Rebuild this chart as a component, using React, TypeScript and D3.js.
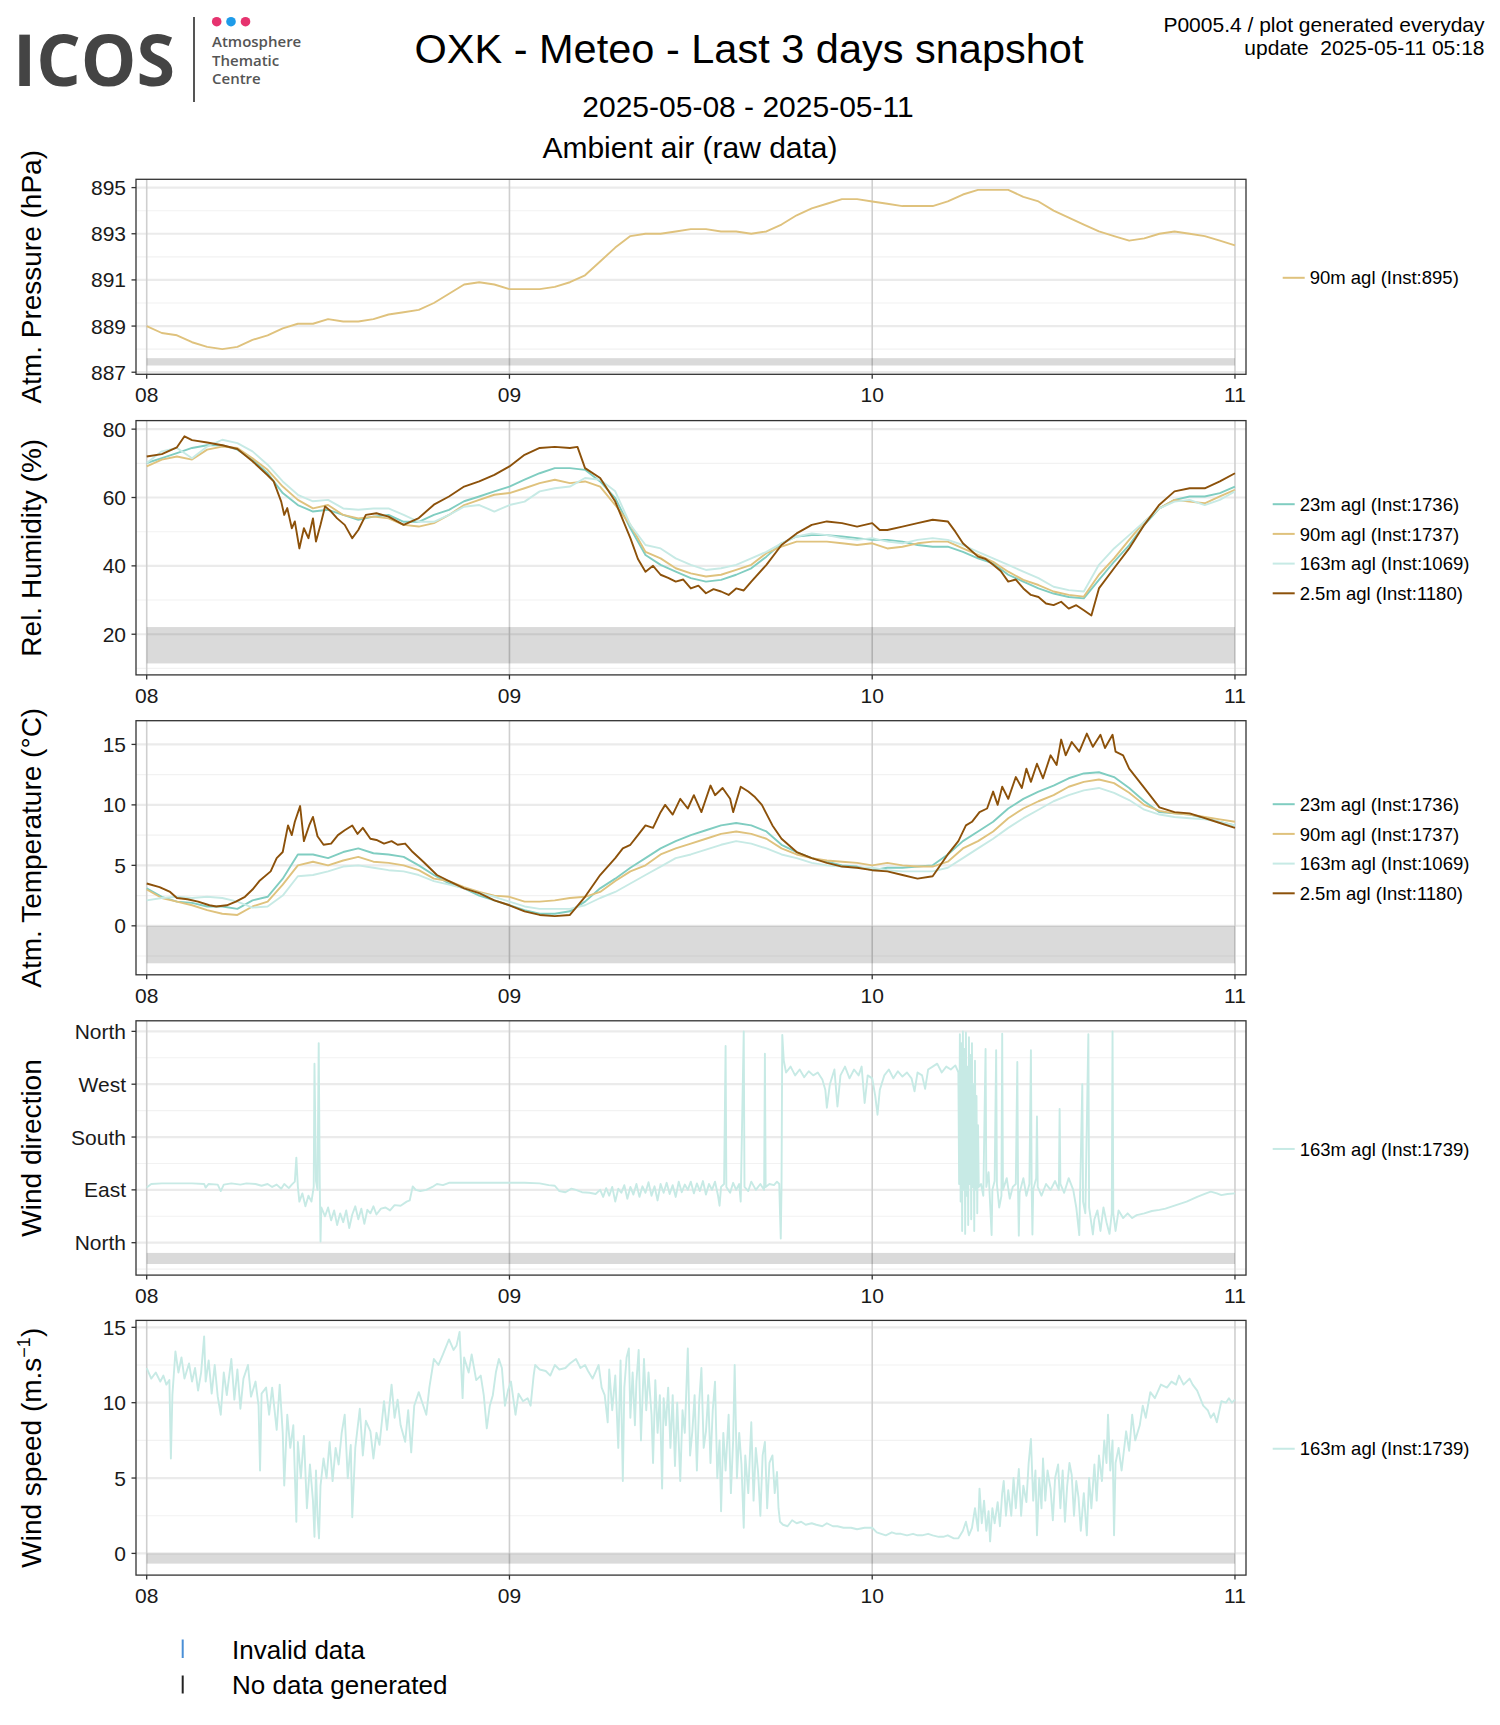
import React from 'react';
import * as d3 from 'd3';

// ---- data (hourly samples from 2025-05-08 00:00 UTC, hours 0..72) ----
const pressure90 = [
  889.0, 888.7, 888.6, 888.3, 888.1, 888.0, 888.1, 888.4, 888.6, 888.9,
  889.1, 889.1, 889.3, 889.2, 889.2, 889.3, 889.5, 889.6, 889.7, 890.0,
  890.4, 890.8, 890.9, 890.8, 890.6, 890.6, 890.6, 890.7, 890.9, 891.2,
  891.8, 892.4, 892.9, 893.0, 893.0, 893.1, 893.2, 893.2, 893.1, 893.1,
  893.0, 893.1, 893.4, 893.8, 894.1, 894.3, 894.5, 894.5, 894.4, 894.3,
  894.2, 894.2, 894.2, 894.4, 894.7, 894.9, 894.9, 894.9, 894.6, 894.4,
  894.0, 893.7, 893.4, 893.1, 892.9, 892.7, 892.8, 893.0, 893.1, 893.0,
  892.9, 892.7, 892.5,
];

const humidity23 = [
  70.1, 71.5, 73.0, 74.5, 75.3, 75.3, 74.0, 71.1, 67.1, 61.3,
  57.8, 55.9, 56.4, 54.9, 53.5, 54.4, 54.9, 52.9, 52.9, 54.9,
  56.4, 58.9, 60.3, 61.8, 63.2, 65.2, 67.1, 68.6, 68.6, 68.1,
  64.7, 59.8, 51.0, 43.2, 40.3, 38.3, 36.4, 35.4, 35.9, 37.4,
  39.3, 42.7, 46.6, 48.6, 49.0, 49.0, 48.6, 48.1, 47.6, 47.6,
  47.1, 46.1, 45.6, 45.6, 44.1, 42.2, 40.7, 37.4, 35.4, 33.4,
  31.9, 30.9, 30.5, 35.9, 41.2, 46.1, 52.0, 56.8, 59.3, 60.3,
  60.3, 61.3, 63.2,
];
const humidity90 = [
  69.1, 71.1, 72.0, 71.1, 74.0, 74.9, 74.5, 71.5, 68.1, 63.2,
  59.3, 56.8, 57.8, 54.9, 53.9, 54.4, 53.9, 52.0, 51.5, 52.5,
  54.9, 57.8, 59.3, 60.8, 61.3, 62.7, 64.2, 65.2, 64.2, 64.7,
  63.2, 57.8, 52.0, 44.1, 42.2, 39.3, 37.8, 36.9, 37.4, 38.8,
  40.3, 43.7, 45.6, 47.1, 47.1, 47.1, 46.6, 46.1, 46.6, 45.1,
  45.6, 46.6, 47.1, 47.1, 45.1, 43.2, 41.2, 38.3, 35.9, 34.4,
  32.5, 31.5, 31.0, 37.4, 42.2, 47.6, 52.9, 56.8, 59.3, 58.8,
  58.3, 60.3, 62.2,
];
const humidity163 = [
  70.1, 73.5, 74.5, 71.5, 74.9, 76.9, 75.9, 73.5, 69.6, 64.7,
  60.8, 58.9, 59.3, 56.8, 56.4, 56.8, 56.8, 54.9, 52.9, 52.9,
  54.9, 57.3, 57.8, 55.9, 57.8, 58.8, 61.8, 62.7, 63.2, 65.7,
  65.2, 61.8, 52.0, 46.1, 45.1, 42.2, 40.3, 38.8, 39.3, 40.3,
  42.2, 44.1, 46.6, 48.6, 49.5, 49.0, 48.1, 47.6, 48.1, 47.1,
  46.6, 47.6, 48.1, 47.6, 46.1, 44.1, 42.2, 40.3, 38.3, 36.4,
  33.9, 32.9, 32.5, 40.3, 45.1, 49.0, 52.9, 56.8, 58.8, 59.3,
  57.8, 59.3, 61.8,
];
// 2.5 m is noisier, so it is kept as [hour, value] pairs
const humidity2_5: [number, number][] = [
  [0, 72.0], [1, 72.7], [2, 74.7], [2.5, 77.9], [3, 76.8], [4, 76.1], [5, 75.3], [6, 74.2], [7, 70.6], [8, 66.5],
  [8.4, 64.7], [8.9, 58.8], [9.1, 54.9], [9.3, 56.9], [9.6, 51.0], [9.8, 53.0], [10.1, 45.1], [10.4, 51.0], [10.7, 48.1], [11.0, 53.9],
  [11.2, 47.1], [11.5, 52.0], [11.8, 57.4], [12.2, 55.9], [12.6, 53.9], [13.1, 52.0], [13.6, 48.1], [14, 50.5], [14.5, 54.9], [15.2, 55.4],
  [16, 54.4], [17, 52.0], [18, 54.0], [19, 57.9], [20, 60.3], [21, 63.2], [22, 64.7], [23, 66.6], [24, 69.1], [25, 72.5],
  [26, 74.5], [27, 74.8], [28, 74.5], [28.5, 74.8], [29, 68.6], [30, 65.7], [31, 58.8], [32, 48.1], [32.5, 42.0], [33, 38.3],
  [33.5, 40.0], [34, 37.4], [34.5, 36.5], [35, 35.4], [35.5, 36.0], [36, 33.4], [36.5, 34.2], [37, 32.0], [37.5, 33.2], [38, 32.5],
  [38.5, 31.5], [39, 33.4], [39.5, 32.8], [40, 35.4], [41, 40.3], [42, 46.1], [43, 49.5], [44, 52.0], [45, 53.0], [46, 52.5],
  [47, 51.5], [48, 52.5], [48.5, 50.5], [49, 50.5], [50, 51.5], [51, 52.5], [52, 53.5], [53, 53.0], [53.5, 50.0], [54, 46.6],
  [55, 42.7], [55.5, 42.0], [56, 40.3], [56.5, 38.5], [57, 35.4], [57.5, 36.0], [58, 33.4], [58.5, 31.5], [59, 30.9], [59.5, 29.0],
  [60, 28.5], [60.5, 29.5], [61, 27.5], [61.5, 28.5], [62, 27.0], [62.5, 25.5], [63, 33.4], [64, 39.3], [65, 45.1], [66, 52.0],
  [67, 57.9], [68, 61.8], [69, 62.7], [70, 62.7], [71, 64.7], [72, 67.1],
];

const temperature23 = [
  3.1, 2.4, 2.0, 1.9, 1.6, 1.6, 1.4, 2.1, 2.4, 3.9,
  5.9, 5.9, 5.6, 6.1, 6.4, 6.0, 5.9, 5.7, 5.0, 4.2,
  3.5, 3.1, 2.5, 2.1, 1.7, 1.3, 1.0, 1.0, 1.2, 2.0,
  3.1, 3.9, 4.8, 5.6, 6.4, 7.0, 7.5, 7.9, 8.3, 8.5,
  8.3, 7.8, 6.7, 6.1, 5.6, 5.3, 5.0, 4.9, 4.6, 4.8,
  4.8, 4.9, 5.0, 5.9, 7.0, 7.8, 8.6, 9.7, 10.5, 11.1,
  11.6, 12.2, 12.6, 12.7, 12.3, 11.4, 10.3, 9.4, 9.3, 9.2,
  8.9, 8.6, 8.3,
];
const temperature90 = [
  3.0, 2.3, 2.0, 1.7, 1.3, 1.0, 0.9, 1.6, 2.0, 3.4,
  5.0, 5.3, 5.0, 5.4, 5.7, 5.3, 5.2, 5.0, 4.6, 3.9,
  3.7, 3.2, 2.8, 2.5, 2.4, 2.0, 2.0, 2.1, 2.3, 2.4,
  2.8, 3.7, 4.5, 5.0, 5.9, 6.4, 6.8, 7.2, 7.6, 7.8,
  7.6, 7.2, 6.4, 5.9, 5.6, 5.4, 5.3, 5.2, 5.0, 5.2,
  5.0, 4.9, 4.9, 5.3, 6.4, 7.0, 7.8, 8.9, 9.7, 10.3,
  10.8, 11.5, 11.9, 12.1, 11.8, 11.0, 10.0, 9.5, 9.3, 9.2,
  9.0, 8.8, 8.6,
];
const temperature163 = [
  2.1, 2.3, 2.4, 2.3, 2.4, 2.3, 2.0, 1.5, 1.6, 2.5,
  4.1, 4.2, 4.5, 4.9, 5.0, 4.8, 4.6, 4.5, 4.2, 3.7,
  3.4, 3.1, 2.7, 2.4, 2.0, 1.6, 1.4, 1.4, 1.4, 1.7,
  2.3, 2.8, 3.5, 4.2, 4.9, 5.6, 5.9, 6.3, 6.7, 7.0,
  6.8, 6.4, 5.9, 5.6, 5.2, 5.0, 4.9, 4.8, 4.8, 4.6,
  4.5, 4.5, 4.5, 4.8, 5.6, 6.4, 7.2, 8.1, 8.9, 9.6,
  10.3, 10.8, 11.2, 11.4, 11.0, 10.4, 9.6, 9.2, 9.0, 8.9,
  8.8, 8.6, 8.3,
];
const temperature2_5: [number, number][] = [
  [0, 3.5], [0.85, 3.2], [1.55, 2.8], [2.0, 2.3], [2.7, 2.2], [3.4, 2.0], [4.15, 1.7], [4.6, 1.6], [5.3, 1.7], [5.9, 2.0],
  [6.5, 2.4], [7.0, 3.0], [7.45, 3.7], [8.2, 4.5], [8.6, 5.6], [9.0, 6.1], [9.35, 8.3], [9.6, 7.5], [9.8, 8.6], [10.15, 9.9],
  [10.4, 7.0], [10.75, 8.3], [11.0, 9.0], [11.3, 7.4], [11.7, 6.7], [12.2, 6.8], [12.65, 7.5], [13.1, 7.9], [13.6, 8.3], [13.95, 7.6],
  [14.3, 8.1], [14.8, 7.2], [15.2, 7.1], [15.7, 6.8], [16.2, 7.0], [16.6, 6.7], [17.1, 6.8], [17.6, 6.1], [18.3, 5.3], [19.2, 4.2],
  [20, 3.7], [21, 3.1], [22, 2.7], [23, 2.1], [24, 1.7], [25, 1.2], [26, 0.9], [27, 0.8], [28, 0.9], [29, 2.4],
  [30, 4.2], [31, 5.6], [31.5, 6.4], [32, 6.7], [32.5, 7.5], [33, 8.3], [33.5, 8.1], [34, 9.4], [34.3, 10.0], [34.8, 9.2],
  [35.3, 10.5], [35.8, 9.7], [36.2, 10.8], [36.7, 9.4], [37.3, 11.6], [37.6, 10.8], [38.1, 11.4], [38.6, 10.5], [38.8, 9.4], [39.3, 11.5],
  [39.8, 11.1], [40.2, 10.7], [40.7, 10.0], [41.4, 8.3], [42, 7.2], [43, 6.1], [44, 5.6], [45, 5.2], [46, 4.9], [47, 4.8],
  [48, 4.6], [49, 4.5], [50, 4.2], [51, 3.9], [52, 4.1], [53, 5.9], [53.7, 7.0], [54.2, 8.3], [54.6, 8.6], [55.1, 9.4],
  [55.6, 9.7], [56, 11.1], [56.3, 10.0], [56.6, 11.5], [57, 10.5], [57.5, 12.3], [57.9, 11.4], [58.2, 13.0], [58.5, 11.9], [58.9, 13.4],
  [59.3, 12.2], [59.8, 14.1], [60.2, 13.3], [60.5, 15.4], [60.8, 14.1], [61.2, 15.2], [61.7, 14.4], [62.2, 15.9], [62.6, 14.8], [63.1, 15.8],
  [63.4, 14.7], [63.9, 15.8], [64.1, 14.4], [64.6, 14.1], [65, 13.0], [66, 11.4], [67, 9.8], [68, 9.4], [69, 9.3], [70, 8.9],
  [71, 8.5], [72, 8.1],
];

// [hour since 08 00:00, degrees]
const windDirection163: [number, number][] = [
  [0, 94], [0.3, 100], [1, 101], [2, 101], [3, 101], [3.8, 100], [3.9, 94], [4.1, 100], [4.7, 99], [4.9, 88],
  [5.1, 99], [5.6, 101], [6.2, 99], [6.6, 101], [7.2, 100], [7.6, 97], [8, 100], [8.3, 95], [8.6, 99], [8.9, 92],
  [9.1, 100], [9.4, 93], [9.6, 99], [9.8, 104], [9.9, 145], [10.0, 96], [10.1, 70], [10.3, 84], [10.5, 62], [10.7, 80],
  [10.9, 70], [11.05, 95], [11.1, 305], [11.2, 105], [11.3, 90], [11.38, 340], [11.45, 100], [11.5, 2], [11.55, 60], [11.8, 45],
  [12.0, 60], [12.2, 38], [12.4, 55], [12.6, 30], [12.8, 50], [13.0, 35], [13.2, 55], [13.4, 25], [13.6, 48], [13.8, 62],
  [14.0, 40], [14.2, 58], [14.4, 32], [14.6, 56], [14.8, 50], [15.0, 62], [15.2, 48], [15.5, 58], [15.8, 60], [16.1, 55],
  [16.4, 64], [16.8, 63], [17.2, 70], [17.4, 72], [17.6, 96], [17.8, 90], [18.1, 88], [18.5, 90], [18.9, 95], [19.2, 100],
  [19.6, 98], [20, 102], [21, 102], [22, 102], [23, 102], [24, 102], [25, 102], [26, 101], [26.6, 98], [27.0, 97],
  [27.3, 88], [27.7, 86], [28.1, 92], [28.4, 90], [28.8, 86], [29.3, 85], [29.7, 83], [30.0, 90], [30.2, 78], [30.4, 93],
  [30.6, 80], [30.8, 95], [31.0, 70], [31.2, 92], [31.4, 85], [31.6, 98], [31.8, 75], [32.0, 95], [32.2, 82], [32.4, 100],
  [32.6, 78], [32.8, 96], [33.0, 85], [33.2, 103], [33.4, 80], [33.6, 96], [33.8, 72], [34.0, 100], [34.2, 85], [34.4, 102],
  [34.6, 83], [34.8, 98], [35.0, 78], [35.2, 104], [35.4, 86], [35.6, 99], [35.8, 90], [36.0, 104], [36.2, 84], [36.4, 101],
  [36.6, 88], [36.8, 105], [37.0, 82], [37.2, 100], [37.4, 90], [37.6, 104], [37.8, 80], [37.9, 63], [38.0, 95], [38.2, 100],
  [38.3, 335], [38.35, 95], [38.6, 85], [38.8, 102], [39.0, 90], [39.2, 100], [39.3, 70], [39.5, 360], [39.55, 95], [39.8, 88],
  [40.0, 104], [40.3, 90], [40.6, 100], [40.85, 90], [40.9, 322], [40.95, 95], [41.2, 100], [41.5, 98], [41.7, 104], [41.85, 100],
  [41.9, 50], [41.95, 7], [42.0, 95], [42.05, 354], [42.15, 310], [42.3, 290], [42.6, 300], [42.9, 285], [43.2, 295], [43.5, 282],
  [43.8, 292], [44.1, 285], [44.4, 290], [44.7, 278], [44.9, 260], [45.0, 230], [45.2, 270], [45.5, 295], [45.7, 232], [45.9, 285],
  [46.2, 300], [46.5, 280], [46.8, 295], [47.1, 285], [47.3, 300], [47.5, 238], [47.7, 285], [48.0, 280], [48.2, 250], [48.35, 218],
  [48.5, 260], [48.8, 285], [49.1, 295], [49.4, 280], [49.7, 292], [50.0, 283], [50.3, 290], [50.6, 280], [50.8, 258], [51.0, 290],
  [51.3, 285], [51.5, 262], [51.7, 295], [52.0, 300], [52.3, 305], [52.6, 290], [52.9, 300], [53.2, 295], [53.5, 302], [53.7, 290],
  [53.75, 100], [53.8, 355], [53.85, 70], [53.9, 340], [53.95, 20], [54.0, 360], [54.05, 90], [54.1, 330], [54.15, 15], [54.2, 358],
  [54.25, 80], [54.3, 300], [54.35, 30], [54.4, 350], [54.45, 100], [54.5, 320], [54.55, 40], [54.6, 340], [54.65, 95], [54.7, 270],
  [54.75, 20], [54.8, 310], [54.85, 90], [54.9, 250], [54.95, 50], [55.0, 200], [55.05, 95], [55.2, 100], [55.35, 80], [55.5, 330],
  [55.55, 95], [55.7, 120], [55.9, 13], [55.95, 90], [56.1, 105], [56.2, 328], [56.25, 100], [56.4, 60], [56.55, 80], [56.6, 356],
  [56.65, 90], [56.9, 110], [57.1, 75], [57.3, 95], [57.5, 100], [57.6, 308], [57.65, 90], [57.7, 12], [57.75, 85], [58.0, 110],
  [58.2, 80], [58.4, 100], [58.5, 328], [58.55, 95], [58.6, 14], [58.65, 90], [58.85, 110], [58.9, 215], [58.95, 95], [59.2, 80],
  [59.5, 100], [59.8, 90], [60.1, 105], [60.35, 90], [60.4, 228], [60.45, 100], [60.7, 85], [61.0, 110], [61.3, 90], [61.5, 60],
  [61.7, 13], [61.75, 80], [61.9, 270], [61.95, 70], [62.1, 50], [62.3, 355], [62.35, 60], [62.6, 14], [62.7, 40], [62.9, 55],
  [63.1, 20], [63.3, 60], [63.5, 35], [63.7, 15], [63.85, 50], [63.9, 360], [63.95, 50], [64.1, 20], [64.3, 55], [64.6, 42],
  [64.9, 50], [65.2, 42], [65.5, 47], [66.0, 50], [66.5, 54], [67.0, 56], [67.4, 58], [68.0, 63], [68.8, 70], [69.5, 78],
  [70.0, 83], [70.4, 87], [70.8, 84], [71.1, 81], [71.5, 83], [72.0, 84],
];

// [hour since 08 00:00, m/s]
const windSpeed163: [number, number][] = [
  [0, 12.3], [0.3, 11.6], [0.6, 12.0], [0.9, 11.4], [1.1, 11.8], [1.3, 11.2], [1.5, 11.5], [1.6, 6.3], [1.7, 10.5], [1.9, 13.4],
  [2.1, 12.0], [2.3, 13.0], [2.5, 11.6], [2.8, 12.6], [3.0, 11.4], [3.2, 12.3], [3.4, 10.8], [3.6, 12.0], [3.8, 14.4], [3.9, 11.4],
  [4.1, 12.8], [4.3, 10.6], [4.5, 12.5], [4.7, 10.4], [4.9, 9.2], [5.1, 12.0], [5.3, 10.5], [5.6, 12.9], [5.8, 10.2], [6.0, 12.2],
  [6.2, 9.6], [6.4, 11.6], [6.7, 12.5], [6.9, 10.4], [7.2, 11.4], [7.4, 9.8], [7.5, 5.5], [7.6, 10.6], [7.9, 11.0], [8.1, 9.2],
  [8.3, 11.0], [8.6, 8.2], [8.8, 11.2], [9.0, 8.0], [9.1, 4.5], [9.3, 9.2], [9.5, 7.0], [9.7, 8.5], [9.9, 2.1], [10.0, 7.4],
  [10.2, 5.0], [10.4, 7.8], [10.6, 3.0], [10.8, 5.9], [11.0, 3.5], [11.1, 1.1], [11.2, 5.5], [11.3, 2.5], [11.4, 1.0], [11.5, 4.5],
  [11.7, 6.3], [11.9, 5.0], [12.1, 7.4], [12.3, 4.8], [12.5, 7.0], [12.7, 5.9], [12.9, 8.0], [13.1, 9.2], [13.3, 5.0], [13.5, 7.2],
  [13.6, 2.4], [13.8, 7.0], [14.1, 9.6], [14.3, 6.5], [14.5, 8.8], [14.8, 8.1], [15.0, 6.3], [15.2, 8.0], [15.4, 7.2], [15.7, 10.1],
  [15.9, 8.2], [16.2, 11.2], [16.4, 9.0], [16.6, 10.2], [16.8, 8.5], [17.1, 7.4], [17.3, 9.5], [17.5, 6.7], [17.7, 9.8], [18.0, 10.7],
  [18.3, 9.8], [18.5, 9.2], [18.7, 11.0], [19.0, 12.9], [19.3, 12.5], [19.6, 13.2], [20.0, 14.2], [20.3, 13.5], [20.5, 13.8], [20.7, 14.7],
  [20.9, 10.3], [21.0, 13.0], [21.3, 12.0], [21.5, 13.2], [21.8, 11.5], [22.1, 11.8], [22.3, 10.5], [22.5, 8.3], [22.7, 9.8], [22.9, 10.5],
  [23.1, 12.0], [23.3, 12.9], [23.5, 12.3], [23.7, 9.8], [23.9, 10.8], [24.1, 11.4], [24.4, 9.2], [24.6, 10.6], [24.9, 10.1], [25.2, 10.3],
  [25.4, 9.8], [25.6, 11.8], [25.7, 12.5], [26.0, 12.2], [26.4, 12.1], [26.7, 11.8], [27.0, 12.5], [27.3, 12.2], [27.7, 12.3], [28.0, 12.6],
  [28.4, 12.9], [28.7, 12.3], [29.0, 12.5], [29.2, 12.1], [29.5, 11.6], [29.9, 12.5], [30.1, 11.0], [30.3, 10.5], [30.5, 8.7], [30.6, 12.2],
  [30.8, 9.5], [31.0, 11.8], [31.2, 7.0], [31.35, 12.8], [31.5, 4.8], [31.6, 11.0], [31.75, 13.0], [31.9, 13.6], [32.0, 9.0], [32.15, 12.0],
  [32.3, 8.5], [32.4, 11.4], [32.55, 13.5], [32.7, 7.5], [32.9, 12.9], [33.05, 9.5], [33.2, 12.0], [33.4, 9.2], [33.5, 6.0], [33.65, 11.5],
  [33.8, 8.0], [33.95, 10.5], [34.1, 4.3], [34.2, 10.3], [34.35, 8.5], [34.5, 11.0], [34.65, 7.0], [34.8, 10.5], [34.95, 5.8], [35.1, 10.0],
  [35.3, 4.8], [35.45, 9.5], [35.6, 8.0], [35.8, 13.6], [35.95, 6.5], [36.1, 8.1], [36.25, 10.5], [36.4, 5.5], [36.55, 10.0], [36.7, 12.3],
  [36.85, 7.0], [37.0, 8.1], [37.15, 10.5], [37.3, 6.0], [37.45, 9.5], [37.6, 11.4], [37.75, 5.0], [37.9, 7.5], [38.0, 2.8], [38.15, 8.0],
  [38.3, 5.5], [38.5, 9.2], [38.65, 4.0], [38.8, 7.5], [38.9, 12.5], [39.05, 5.0], [39.2, 8.0], [39.35, 5.9], [39.5, 1.7], [39.6, 6.5],
  [39.8, 4.0], [40.0, 8.7], [40.15, 3.5], [40.3, 7.0], [40.45, 5.4], [40.6, 2.5], [40.75, 6.5], [40.9, 7.4], [41.05, 3.0], [41.2, 6.0],
  [41.4, 6.5], [41.55, 4.0], [41.7, 5.4], [41.8, 3.0], [41.9, 2.1], [42.1, 1.9], [42.4, 1.8], [42.7, 2.2], [43.0, 2.0], [43.3, 2.1],
  [43.6, 1.9], [44.0, 2.0], [44.3, 1.9], [44.7, 1.8], [45.0, 2.0], [45.4, 1.8], [45.7, 1.8], [46.1, 1.7], [46.6, 1.7], [47.0, 1.6],
  [47.5, 1.7], [48.0, 1.7], [48.3, 1.4], [48.6, 1.3], [48.9, 1.2], [49.3, 1.4], [49.6, 1.3], [49.9, 1.3], [50.3, 1.2], [50.7, 1.3],
  [51.0, 1.2], [51.3, 1.2], [51.7, 1.3], [52.0, 1.2], [52.4, 1.1], [52.7, 1.1], [53.0, 1.2], [53.4, 1.0], [53.7, 1.0], [54.0, 1.5],
  [54.2, 2.1], [54.4, 1.2], [54.6, 1.7], [54.8, 3.0], [55.0, 1.5], [55.1, 4.3], [55.25, 2.0], [55.4, 3.5], [55.55, 1.5], [55.7, 2.8],
  [55.8, 0.8], [55.95, 3.0], [56.1, 2.0], [56.3, 3.4], [56.45, 1.8], [56.6, 4.0], [56.7, 4.8], [56.85, 2.5], [57.0, 4.2], [57.2, 2.5],
  [57.35, 5.0], [57.5, 3.0], [57.7, 5.6], [57.85, 2.5], [58.0, 4.5], [58.2, 3.4], [58.35, 6.0], [58.5, 7.6], [58.65, 3.5], [58.8, 5.5],
  [58.9, 1.2], [59.05, 5.0], [59.2, 3.0], [59.3, 6.3], [59.45, 3.5], [59.6, 5.5], [59.8, 4.3], [59.95, 2.2], [60.1, 5.0], [60.3, 5.9],
  [60.45, 3.0], [60.6, 5.5], [60.75, 2.1], [60.9, 4.5], [61.05, 6.0], [61.2, 5.2], [61.35, 2.5], [61.5, 4.8], [61.65, 3.7], [61.8, 1.5],
  [62.0, 4.0], [62.2, 1.2], [62.35, 5.0], [62.5, 3.0], [62.7, 5.9], [62.85, 3.5], [63.0, 6.5], [63.2, 4.8], [63.35, 7.5], [63.5, 6.0],
  [63.6, 9.2], [63.75, 5.5], [63.9, 7.5], [64.0, 1.2], [64.1, 6.0], [64.3, 7.0], [64.5, 5.5], [64.8, 8.1], [65.0, 6.8], [65.2, 9.2],
  [65.4, 7.5], [65.7, 8.5], [65.9, 9.8], [66.1, 9.0], [66.4, 10.7], [66.7, 10.3], [67.1, 11.2], [67.5, 11.0], [67.8, 11.4], [68.1, 11.2],
  [68.3, 11.8], [68.6, 11.2], [68.8, 11.4], [69.0, 11.6], [69.2, 11.2], [69.5, 10.8], [69.9, 9.8], [70.2, 9.5], [70.4, 9.0], [70.6, 9.3],
  [70.8, 8.7], [71.1, 10.1], [71.4, 10.0], [71.6, 10.3], [71.8, 10.0], [72.0, 10.2],
];

const windDirectionLabels = ['North', 'East', 'South', 'West', 'North'];
const bottomLegendLabels = ['Invalid data', 'No data generated'];
const logoLines = ['Atmosphere', 'Thematic', 'Centre'];

// ---- layout ----
const W = 1500;
const H = 1725;
const START = Date.UTC(2025, 4, 8);
const HOUR = 3600 * 1000;
const FONT = '"Liberation Sans", Arial, Helvetica, sans-serif';

const C23 = '#80cdc1';
const C90 = '#dfc27d';
const C163 = '#c7eae5';
const C2_5 = '#8c510a';

const x = d3
  .scaleUtc()
  .domain([new Date(START - 0.708 * HOUR), new Date(START + 72.73 * HOUR)])
  .range([136, 1246]);
const dayTicks = x.ticks(d3.utcDay.every(1) as d3.TimeInterval);
const dayFormat = d3.utcFormat('%d');
const hx = (h: number) => x(new Date(START + h * HOUR));

const hourly = (vals: number[]): [number, number][] => vals.map((v, i) => [i, v]);

interface Series {
  data: [number, number][];
  color: string;
  label: string;
}

interface PanelProps {
  id: string;
  top: number;
  bottom: number;
  domain: [number, number];
  major: number[];
  minor: number[];
  fmt: (v: number, i: number) => string;
  band: [number, number];
  series: Series[];
  legendX: number;
  title: React.ReactNode;
}

const Panel: React.FC<PanelProps> = ({ id, top, bottom, domain, major, minor, fmt, band, series, legendX, title }) => {
  const y = d3.scaleLinear().domain(domain).range([bottom, top]);
  const line = d3
    .line<[number, number]>()
    .x((d) => hx(d[0]))
    .y((d) => y(d[1]));
  const [x0, x1] = x.range();
  const mid = (top + bottom) / 2;
  const legendTop = mid + 1 - ((series.length - 1) * 29.7) / 2;
  return (
    <g>
      <defs>
        <clipPath id={`clip-${id}`}>
          <rect x={x0} y={top} width={x1 - x0} height={bottom - top} />
        </clipPath>
      </defs>
      {minor.map((v) => (
        <line key={`mi${v}`} x1={x0} x2={x1} y1={y(v)} y2={y(v)} stroke="#f2f2f2" strokeWidth={1.1} />
      ))}
      {major.map((v) => (
        <line key={`ma${v}`} x1={x0} x2={x1} y1={y(v)} y2={y(v)} stroke="#ebebeb" strokeWidth={2.2} />
      ))}
      {dayTicks.map((d) => (
        <line key={`v${+d}`} x1={x(d)} x2={x(d)} y1={top} y2={bottom} stroke="#cfcfcf" strokeWidth={1.6} />
      ))}
      <rect
        x={x(dayTicks[0])}
        width={x(dayTicks[dayTicks.length - 1]) - x(dayTicks[0])}
        y={y(band[1])}
        height={y(band[0]) - y(band[1])}
        fill="#000"
        fillOpacity={0.145}
      />
      <g clipPath={`url(#clip-${id})`}>
        {series.map((s) => (
          <path key={s.label} d={line(s.data) || ''} fill="none" stroke={s.color} strokeWidth={1.9} strokeLinejoin="round" />
        ))}
      </g>
      <rect x={x0} y={top} width={x1 - x0} height={bottom - top} fill="none" stroke="#333" strokeWidth={1.3} />
      {major.map((v, i) => (
        <g key={`t${v}`}>
          <line x1={x0 - 4.5} x2={x0} y1={y(v)} y2={y(v)} stroke="#333" strokeWidth={1.3} />
          <text x={x0 - 10} y={y(v)} dy="0.36em" textAnchor="end" fontSize={21} fill="#1a1a1a" fontFamily={FONT}>
            {fmt(v, i)}
          </text>
        </g>
      ))}
      {dayTicks.map((d) => (
        <g key={`xt${+d}`}>
          <line x1={x(d)} x2={x(d)} y1={bottom} y2={bottom + 4.5} stroke="#333" strokeWidth={1.3} />
          <text x={x(d)} y={bottom + 28} textAnchor="middle" fontSize={21} fill="#1a1a1a" fontFamily={FONT}>
            {dayFormat(d)}
          </text>
        </g>
      ))}
      <text
        transform={`translate(41,${mid}) rotate(-90)`}
        textAnchor="middle"
        fontSize={28}
        fill="#000"
        fontFamily={FONT}
      >
        {title}
      </text>
      {series.map((s, i) => (
        <g key={`lg${s.label}`}>
          <line
            x1={legendX}
            x2={legendX + 22}
            y1={legendTop + i * 29.7}
            y2={legendTop + i * 29.7}
            stroke={s.color}
            strokeWidth={2}
          />
          <text x={legendX + 27} y={legendTop + i * 29.7} dy="0.36em" fontSize={18.5} fill="#000" fontFamily={FONT}>
            {s.label}
          </text>
        </g>
      ))}
    </g>
  );
};

const App: React.FC = () => {
  const num = (v: number) => String(v);
  return (
    <svg
      width={W}
      height={H}
      viewBox={`0 0 ${W} ${H}`}
      style={{ position: 'absolute', left: 0, top: 0, background: '#fff' }}
    >
      <rect width={W} height={H} fill="#fff" />

      {/* logo */}
      <text x={13} y={86} fontFamily='"Open Sans", sans-serif' fontWeight={700} fontSize={72} fill="#444"
        textLength={162} lengthAdjust="spacingAndGlyphs">ICOS</text>
      <line x1={194} x2={194} y1={17} y2={102} stroke="#555" strokeWidth={2} />
      <circle cx={216.7} cy={21.7} r={4.8} fill="#e6336f" />
      <circle cx={231} cy={21.7} r={4.8} fill="#1e9be9" />
      <circle cx={245.5} cy={21.7} r={4.8} fill="#e6336f" />
      {logoLines.map((t, i) => (
        <text key={t} x={212} y={46.7 + i * 18.8} fontFamily='"Open Sans", sans-serif' fontWeight={600}
          fontSize={15} fill="#555">{t}</text>
      ))}

      {/* titles */}
      <text x={749} y={63} textAnchor="middle" fontSize={41.5} fontFamily={FONT} fill="#000">
        OXK - Meteo - Last 3 days snapshot
      </text>
      <text x={748} y={117} textAnchor="middle" fontSize={30} fontFamily={FONT} fill="#000">
        2025-05-08 - 2025-05-11
      </text>
      <text x={690} y={158} textAnchor="middle" fontSize={30} fontFamily={FONT} fill="#000">
        Ambient air (raw data)
      </text>
      <text x={1484.5} y={31.5} textAnchor="end" fontSize={21} fontFamily={FONT} fill="#000">
        P0005.4 / plot generated everyday
      </text>
      <text x={1484.5} y={55} textAnchor="end" fontSize={21} fontFamily={FONT} fill="#000" style={{ whiteSpace: 'pre' }}>
        {'update  2025-05-11 05:18'}
      </text>

      <Panel
        id="p1"
        top={179.3}
        bottom={374.3}
        domain={[886.91, 895.36]}
        major={[887, 889, 891, 893, 895]}
        minor={[888, 890, 892, 894]}
        fmt={num}
        band={[887.29, 887.61]}
        series={[{ data: hourly(pressure90), color: C90, label: '90m agl (Inst:895)' }]}
        legendX={1282.7}
        title="Atm. Pressure (hPa)"
      />
      <Panel
        id="p2"
        top={420.6}
        bottom={674.9}
        domain={[8.1, 82.5]}
        major={[20, 40, 60, 80]}
        minor={[10, 30, 50, 70]}
        fmt={num}
        band={[11.45, 22.1]}
        series={[
          { data: hourly(humidity23), color: C23, label: '23m agl (Inst:1736)' },
          { data: hourly(humidity90), color: C90, label: '90m agl (Inst:1737)' },
          { data: hourly(humidity163), color: C163, label: '163m agl (Inst:1069)' },
          { data: humidity2_5, color: C2_5, label: '2.5m agl (Inst:1180)' },
        ]}
        legendX={1272.7}
        title="Rel. Humidity (%)"
      />
      <Panel
        id="p3"
        top={720.7}
        bottom={974.8}
        domain={[-4.05, 16.96]}
        major={[0, 5, 10, 15]}
        minor={[-2.5, 2.5, 7.5, 12.5]}
        fmt={num}
        band={[-3.1, 0]}
        series={[
          { data: hourly(temperature23), color: C23, label: '23m agl (Inst:1736)' },
          { data: hourly(temperature90), color: C90, label: '90m agl (Inst:1737)' },
          { data: hourly(temperature163), color: C163, label: '163m agl (Inst:1069)' },
          { data: temperature2_5, color: C2_5, label: '2.5m agl (Inst:1180)' },
        ]}
        legendX={1272.7}
        title="Atm. Temperature (°C)"
      />
      <Panel
        id="p4"
        top={1020.8}
        bottom={1275.1}
        domain={[-55.2, 378]}
        major={[0, 90, 180, 270, 360]}
        minor={[-45, 45, 135, 225, 315]}
        fmt={(_, i) => windDirectionLabels[i]}
        band={[-36.3, -17.4]}
        series={[{ data: windDirection163, color: C163, label: '163m agl (Inst:1739)' }]}
        legendX={1272.7}
        title="Wind direction"
      />
      <Panel
        id="p5"
        top={1320.4}
        bottom={1575.1}
        domain={[-1.44, 15.46]}
        major={[0, 5, 10, 15]}
        minor={[2.5, 7.5, 12.5]}
        fmt={num}
        band={[-0.68, 0]}
        series={[{ data: windSpeed163, color: C163, label: '163m agl (Inst:1739)' }]}
        legendX={1272.7}
        title={
          <>
            Wind speed (m.s<tspan dy={-11} fontSize={18}>−1</tspan>
            <tspan dy={11}>)</tspan>
          </>
        }
      />

      {/* bottom legend */}
      <line x1={182.7} x2={182.7} y1={1639.5} y2={1658} stroke="#4a8fd6" strokeWidth={2} />
      <line x1={182.7} x2={182.7} y1={1675.5} y2={1693.5} stroke="#222" strokeWidth={2} />
      {bottomLegendLabels.map((t, i) => (
        <text key={t} x={232} y={1658.5 + i * 35} fontSize={26} fontFamily={FONT} fill="#000">
          {t}
        </text>
      ))}
    </svg>
  );
};

export default App;
